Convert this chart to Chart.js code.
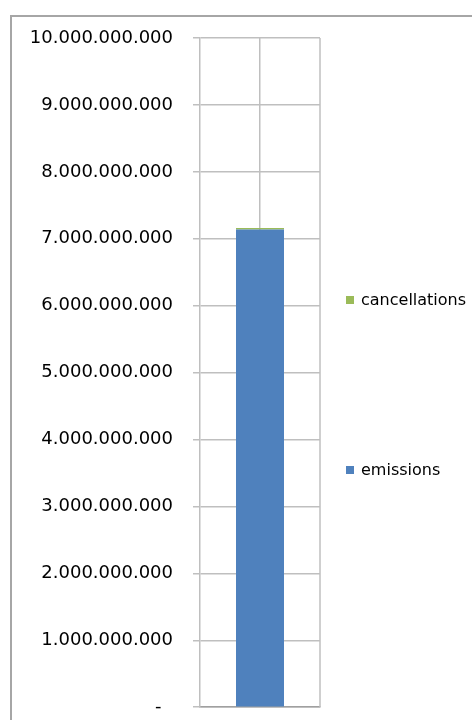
<!DOCTYPE html>
<html>
<head>
<meta charset="utf-8">
<script src="https://cdn.jsdelivr.net/npm/chart.js@4.4.0/dist/chart.umd.min.js"></script>
<style>
  html, body { margin: 0; padding: 0; background: #fff; overflow: hidden; }
  #frame { position: absolute; left: 10px; top: 15px; width: 480px; height: 720px; border: 2px solid #a6a6a6; box-sizing: border-box; }
  #wrap { position: absolute; left: 0; top: 0; width: 472px; height: 738px; }
</style>
</head>
<body>
<div id="frame"></div>
<div id="wrap"><canvas id="myChart"></canvas></div>
<script>
var categorie = [''];
var emissions = [7140000000];
var cancellations = [20000000];
var tickValues = [0, 1000000000, 2000000000, 3000000000, 4000000000, 5000000000,
                  6000000000, 7000000000, 8000000000, 9000000000, 10000000000];

function formatta(v) {
  if (v === 0) return '-  ';
  return v.toString().replace(/\B(?=(\d{3})+(?!\d))/g, '.');
}

// legend drawn at fixed spots on the right, like the original
var legendaDestra = {
  id: 'legendaDestra',
  afterDraw: function(chart) {
    var ctx = chart.ctx;
    var pos = { cancellations: 300, emissions: 470 };
    ctx.save();
    ctx.font = '16px "DejaVu Sans"';
    ctx.textBaseline = 'middle';
    chart.data.datasets.forEach(function(ds) {
      var y = pos[ds.label];
      ctx.fillStyle = ds.backgroundColor;
      ctx.fillRect(346, y - 4, 8, 8);
      ctx.fillStyle = '#000';
      ctx.fillText(ds.label, 361, y + 1);
    });
    ctx.restore();
  }
};

// right edge of plot area
var bordoArea = {
  id: 'bordoArea',
  afterDraw: function(chart) {
    var a = chart.chartArea;
    var ctx = chart.ctx;
    ctx.save();
    ctx.strokeStyle = '#bfbfbf';
    ctx.lineWidth = 1.5;
    ctx.beginPath();
    ctx.moveTo(a.right, a.top);
    ctx.lineTo(a.right, a.bottom);
    ctx.stroke();
    ctx.restore();
  }
};

var ctx = document.getElementById('myChart');
var chart = new Chart(ctx, {
  type: 'bar',
  data: {
    labels: categorie,
    datasets: [{
      label: 'emissions',
      backgroundColor: '#4f81bd',
      data: emissions
    }, {
      label: 'cancellations',
      backgroundColor: '#9bbb59',
      data: cancellations
    }]
  },
  options: {
    responsive: true,
    maintainAspectRatio: false,
    animation: false,
    layout: { padding: { top: 38, right: 152, bottom: 0, left: 0 } },
    plugins: {
      legend: { display: false },
      tooltip: { enabled: false }
    },
    datasets: {
      bar: { categoryPercentage: 1, barPercentage: 0.4 }
    },
    scales: {
      x: {
        stacked: true,
        offset: true,
        afterFit: function(scale) { scale.height = 0; },
        ticks: { display: false },
        grid: { offset: false, color: '#bfbfbf', lineWidth: 1.5, drawTicks: false },
        border: { display: true, color: '#a0a0a0', width: 1.5 }
      },
      y: {
        stacked: true,
        min: 0,
        max: 10000000000,
        afterBuildTicks: function(scale) {
          scale.ticks = tickValues.map(function(v) { return { value: v }; });
        },
        afterFit: function(scale) { scale.width = 200; },
        ticks: {
          padding: 20,
          color: '#000',
          font: { family: 'DejaVu Sans', size: 18 },
          callback: function(v) { return formatta(v); }
        },
        grid: { color: '#bfbfbf', lineWidth: 1.5, tickLength: 7 },
        border: { color: '#bfbfbf', width: 1.5 }
      }
    }
  },
  plugins: [legendaDestra, bordoArea]
});
</script>
</body>
</html>
